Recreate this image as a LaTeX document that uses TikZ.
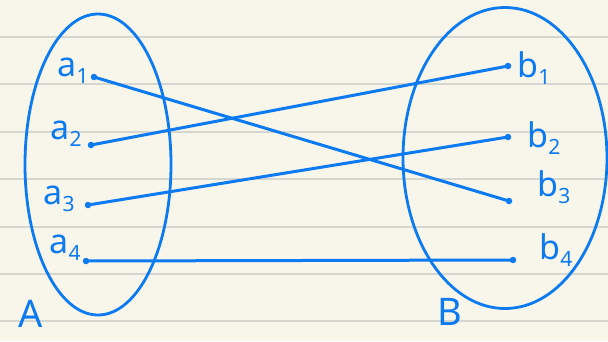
\documentclass[tikz,border=0pt]{standalone}
\usepackage{fontspec}
\setmainfont{Noto Sans}
\usetikzlibrary{shapes.geometric}
\definecolor{pen}{RGB}{12,122,240}
\definecolor{paper}{RGB}{248,246,235}
\definecolor{rule}{RGB}{214,214,208}
\newcommand{\lbl}[2]{{\fontsize{34}{34}\selectfont #1}\raisebox{-7pt}{\fontsize{21}{21}\selectfont #2}}
\begin{document}
\begin{tikzpicture}[x=1pt,y=-1pt,
  pt/.style={circle,fill=pen,inner sep=0pt,minimum size=6.5pt},
  setel/.style={ellipse,draw=pen,line width=2.8pt,inner sep=0pt},
  link/.style={draw=pen,line width=3pt,line cap=round},
  lab/.style={text=pen,inner sep=0pt,anchor=center},
  big/.style={text=pen,inner sep=0pt,font=\fontsize{38}{38}\selectfont}]
\fill[paper] (0,0) rectangle (608,341);
\useasboundingbox (0,0) rectangle (608,341);
\foreach \y in {37,84,132,179,227,274,321}
  \draw[rule,line width=1.5pt] (0,\y) -- (608,\y);
\node[setel,minimum width=146pt,minimum height=301pt] (A) at (98,164.5) {};
\node[setel,minimum width=204pt,minimum height=301pt] (B) at (505,158) {};
\node[pt] (a1) at (94,77) {};
\node[pt] (a2) at (91,145) {};
\node[pt] (a3) at (88,205) {};
\node[pt] (a4) at (86,261) {};
\node[pt] (b1) at (508,66) {};
\node[pt] (b2) at (508,137) {};
\node[pt] (b3) at (509,201) {};
\node[pt] (b4) at (513,260) {};
\draw[link] (a1.center) -- (b3.center);
\draw[link] (a2.center) -- (b1.center);
\draw[link] (a3.center) -- (b2.center);
\draw[link] (a4.center) -- (b4.center);
\node[lab] (la1) at (73,71) {\lbl{a}{1}};
\node[lab] (la2) at (66,134) {\lbl{a}{2}};
\node[lab] (la3) at (59,199) {\lbl{a}{3}};
\node[lab] (la4) at (65,248) {\lbl{a}{4}};
\node[lab] (lb1) at (534,68) {\lbl{b}{1}};
\node[lab] (lb2) at (544,138) {\lbl{b}{2}};
\node[lab] (lb3) at (554,187) {\lbl{b}{3}};
\node[lab] (lb4) at (556,250) {\lbl{b}{4}};
\node[big] (nA) at (31,314) {A};
\node[big] (nB) at (450,312) {B};
\end{tikzpicture}
\end{document}
